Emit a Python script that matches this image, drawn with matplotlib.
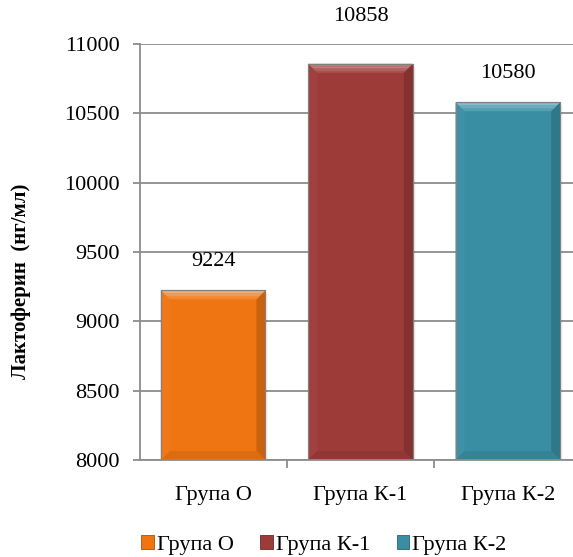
import numpy as np
import matplotlib.pyplot as plt
from matplotlib.patches import Polygon, Rectangle
from matplotlib.colors import to_rgb

plt.rcParams['font.family'] = ['Liberation Serif', 'DejaVu Serif']

groups = ['Група О', 'Група К-1', 'Група К-2']
lactoferrin = [9224, 10858, 10580]
colors = ['#EF7512', '#9D3B39', '#3A8EA4']
label_offsets = [14, 27, 14]  # points above bar top

W, H = 573, 557
fig = plt.figure(figsize=(W / 100, H / 100), dpi=100)
ax = fig.add_axes([139.5 / W, 1 - 460 / H, 442 / W, 416 / H])

x = np.arange(len(groups))
bars = ax.bar(x, lactoferrin, width=0.71, color=colors, edgecolor='#7f7f7f',
              linewidth=0.8, zorder=3)

ax.set_xlim(-0.5, len(groups) - 0.5)
ax.set_ylim(8000, 11000)
ax.set_yticks(np.arange(8000, 11001, 500))
ax.yaxis.grid(True, color='#8c8c8c', linewidth=1.3)
ax.set_axisbelow(True)
for s in ['top', 'right']:
    ax.spines[s].set_visible(False)
for s in ['left', 'bottom']:
    ax.spines[s].set_color('#8c8c8c')
    ax.spines[s].set_linewidth(1.3)
    ax.spines[s].set_zorder(4)

ax.set_xticks(x)
ax.set_xticklabels(groups, fontsize=16)
ax.set_xticks(np.arange(0.5, len(groups) - 0.5, 1), minor=True)
ax.tick_params(axis='x', which='major', length=0, pad=19)
ax.tick_params(axis='x', which='minor', length=6, width=1.3, color='#8c8c8c')
ax.tick_params(axis='y', length=5, width=1.3, color='#8c8c8c', labelsize=16, pad=9)
ax.set_ylabel('Лактоферин  (нг/мл)', fontsize=15, fontweight='bold')
ax.yaxis.set_label_coords(-0.245, 0.43)

for i, (b, v) in enumerate(zip(bars, lactoferrin)):
    ax.annotate(str(v), (b.get_x() + b.get_width() / 2, v),
                xytext=(0, label_offsets[i]), textcoords='offset points',
                ha='center', va='bottom', fontsize=16, annotation_clip=False)


def shade(c, f):
    r = np.array(to_rgb(c))
    if f >= 0:
        return tuple(r + (1 - r) * f)
    return tuple(r * (1 + f))


# bevel effect drawn in pixel coordinates on top of each bar
fig.canvas.draw()
bev = 9
for b, c in zip(bars, colors):
    (x0, y0), (x1, y1) = ax.transData.transform(
        [(b.get_x(), 8000), (b.get_x() + b.get_width(), b.get_height())])
    # soft drop shadow to the right
    for k, a in enumerate([0.10, 0.06, 0.03]):
        ax.add_patch(Rectangle((x1 + k, y0), 1, y1 - y0 - 2 - k, transform=None,
                               facecolor='black', alpha=a, edgecolor='none',
                               zorder=2.9))
    lft = [(x0, y0), (x0, y1), (x0 + bev, y1 - bev), (x0 + bev, y0 + bev)]
    rgt = [(x1, y0), (x1, y1), (x1 - bev, y1 - bev), (x1 - bev, y0 + bev)]
    bot = [(x0, y0), (x1, y0), (x1 - bev, y0 + bev), (x0 + bev, y0 + bev)]
    for pts, f in [(lft, 0.03), (rgt, -0.16), (bot, -0.08)]:
        ax.add_patch(Polygon(pts, closed=True, transform=None, facecolor=shade(c, f),
                             edgecolor='none', zorder=3.5))
    # top bevel as graded bands, lightest at the edge
    n = 6
    for k in range(n):
        d0, d1 = bev * k / n, bev * (k + 1) / n
        f = 0.38 * (1 - k / n) + 0.08
        pts = [(x0 + d0, y1 - d0), (x1 - d0, y1 - d0),
               (x1 - d1, y1 - d1), (x0 + d1, y1 - d1)]
        ax.add_patch(Polygon(pts, closed=True, transform=None, facecolor=shade(c, f),
                             edgecolor='none', zorder=3.6))
    ax.add_patch(Rectangle((x0, y0), x1 - x0, y1 - y0, transform=None,
                           facecolor='none', edgecolor='#808080', linewidth=0.8,
                           zorder=3.7))

handles = [Rectangle((0, 0), 1, 1, facecolor=c, edgecolor=shade(c, -0.3), linewidth=0.6)
           for c in colors]
fig.legend(handles, groups, loc='center', bbox_to_anchor=(324 / W, 1 - 545 / H),
           ncol=3, frameon=False, fontsize=16, handlelength=0.55, handleheight=0.55,
           handletextpad=0.15, columnspacing=1.2)

fig.savefig('out.png', dpi=100)
